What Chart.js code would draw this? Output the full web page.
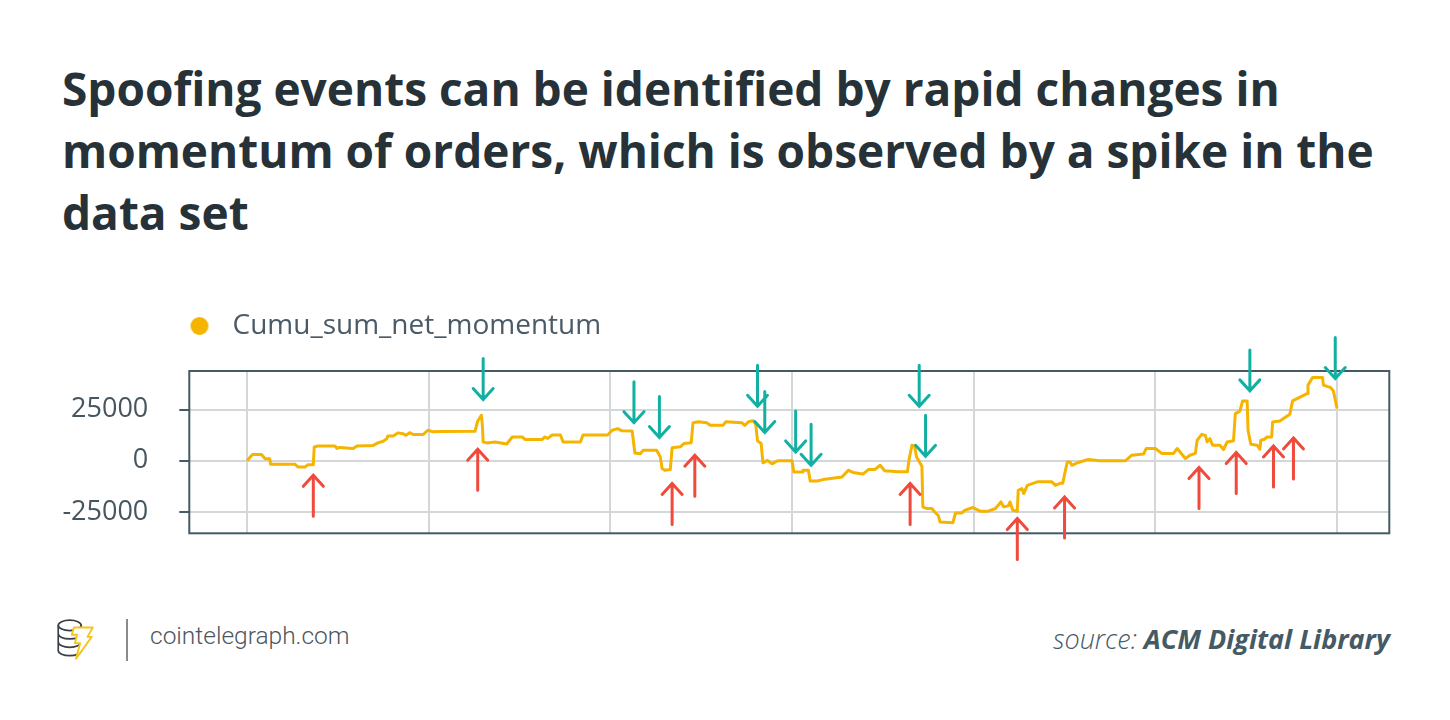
<!DOCTYPE html>
<html>
<head>
<meta charset="utf-8">
<script src="https://cdn.jsdelivr.net/npm/chart.js@4.4.1/dist/chart.umd.min.js"></script>
<style>
  html, body { margin: 0; padding: 0; background: #fff; }
  body { width: 1450px; height: 720px; position: relative; overflow: hidden; font-family: "Open Sans", sans-serif; }
  #title {
    position: absolute; left: 62px; top: 57px; margin: 0;
    font-size: 46px; line-height: 62px; font-weight: 700; color: #263238;
  }
  #chartBox { position: absolute; left: 0; top: 290px; width: 1450px; height: 300px; }
  #logo { position: absolute; left: 55px; top: 617px; }
  #divider { position: absolute; left: 126px; top: 619px; width: 2px; height: 42px; background: #8a8a8a; }
  #site { position: absolute; left: 150px; top: 621px; font-family: Roboto, sans-serif; font-weight: 300; font-size: 24.5px; color: #4a5761; }
  #source { position: absolute; right: 60px; top: 620px; font-size: 27px; font-style: italic; color: #455a64; }
  #source b { font-weight: 700; }
  #source span { font-weight: 300; }
</style>
</head>
<body>
<h1 id="title">Spoofing events can be identified by rapid changes in<br>momentum of orders, which is observed by a spike in the<br>data set</h1>
<div id="chartBox"><canvas id="momentumChart"></canvas></div>
<svg id="logo" width="42" height="46" viewBox="0 0 40 44">
  <g fill="none" stroke="#3a3f44" stroke-width="1.6">
    <ellipse cx="14" cy="8" rx="11" ry="5"/>
    <path d="M3 8 v8 a11 5 0 0 0 22 0 M3 16 v8 a11 5 0 0 0 22 0 M3 24 v8 a11 5 0 0 0 22 0 M25 8 v6"/>
  </g>
  <path d="M18 10 h18 l-5 9 h4 l-15 21 l4 -15 h-5 l2 -8 h-5 z" fill="#fff" stroke="#f5c518" stroke-width="1.8" stroke-linejoin="round"/>
</svg>
<div id="divider"></div>
<div id="site">cointelegraph.com</div>
<div id="source"><span>source: </span><b>ACM Digital Library</b></div>

<script>
// -------------------------
// Data (x = sample index, y = cumulative net momentum)
// -------------------------
const seriesLabel = 'Cumu_sum_net_momentum';

const xs = [0, 6, 16, 20, 25, 26, 53, 56, 64, 67, 73, 74, 78, 97, 99, 102, 117, 121, 139, 144,
  150, 154, 155, 161, 166, 172, 175, 179, 183, 194, 199, 205, 212, 251, 254, 258, 259, 260, 264, 273,
  286, 292, 303, 306, 325, 328, 331, 336, 345, 348, 367, 370, 397, 402, 408, 413, 424, 427, 433, 436,
  451, 455, 457, 460, 466, 468, 477, 481, 489, 491, 497, 506, 510, 524, 527, 545, 548, 552, 557, 560,
  562, 566, 568, 573, 578, 584, 600, 602, 611, 612, 618, 620, 628, 634, 655, 662, 667, 678, 684, 691,
  697, 702, 717, 727, 729, 732, 735, 737, 743, 744, 748, 754, 757, 761, 763, 777, 780, 787, 790, 799,
  807, 816, 824, 830, 833, 838, 840, 843, 848, 849, 853, 855, 859, 870, 886, 890, 895, 898, 901, 903,
  906, 908, 914, 926, 939, 967, 974, 987, 990, 1000, 1007, 1020, 1024, 1033, 1038, 1044, 1046, 1051, 1055, 1057,
  1060, 1063, 1071, 1075, 1079, 1086, 1088, 1093, 1096, 1101, 1102, 1105, 1112, 1115, 1116, 1120, 1123, 1128, 1129, 1137,
  1148, 1151, 1167, 1168, 1173, 1184, 1185, 1193, 1196, 1200];

const ys = [0, 3000, 3000, 1000, 1000, -1700, -1700, -3000, -3000, -2000, -2000, 6700, 7200, 7200, 6000, 6500, 6000, 7200, 7500, 8700,
  9500, 10800, 12100, 12100, 13600, 13200, 12400, 13700, 12800, 12800, 14900, 14100, 14300, 14400, 19400, 22200, 18000, 9200, 8700, 9200,
  8200, 11600, 11600, 10400, 10400, 11600, 10900, 12600, 12600, 9200, 9200, 12600, 12600, 14900, 15700, 14600, 14500, 3800, 3400, 5100,
  5100, 1900, -3800, -4600, -4300, 6400, 6800, 8400, 8800, 18500, 19000, 18500, 17300, 17300, 19000, 18500, 17300, 19000, 19500, 18000,
  9700, 8400, -1000, 200, -1500, 0, 0, -5500, -5500, -4600, -4600, -9900, -9900, -9200, -7900, -4600, -5700, -6500, -4300, -4300,
  -2200, -4900, -5400, -5400, 1000, 7600, 7100, 1900, -2700, -22500, -23300, -23300, -25000, -26700, -29900, -30300, -25500, -25500, -24200, -22800,
  -24600, -24600, -23300, -20100, -22500, -22000, -20100, -24200, -24600, -14400, -13600, -16000, -12000, -10300, -10300, -12000, -11000, -11000, -4600, -600,
  -600, -2200, -1000, 600, 0, 0, 2700, 3300, 6000, 6000, 3600, 3600, 6000, 1100, 2700, 3600, 10000, 12900, 12400, 9200,
  10800, 7600, 7600, 5500, 9200, 9800, 23000, 24200, 29200, 29200, 14900, 8100, 7600, 5600, 10000, 10500, 11600, 11600, 18900, 19400,
  22700, 29200, 32800, 36900, 40600, 40600, 36900, 35700, 34000, 25500];

const yTicks = [-25000, 0, 25000];
const xGridTicks = [0, 200, 400, 600, 800, 1000, 1200];

// Annotation arrows, tip positions in data units
const upArrowX = [73, 254, 468, 493, 730, 848, 900, 1048, 1089, 1130, 1152];
const upArrowY = [-7100, 5600, -11100, 2700, -11100, -28200, -17700, -3300, 4000, 7200, 11100];
const downArrowX = [260, 426, 454, 562, 570, 604, 621, 740, 747, 1104, 1198];
const downArrowY = [29900, 18600, 11300, 26600, 13800, 4300, -2200, 26600, 2200, 34100, 40100];

// -------------------------
// Legend marker (circle sitting a bit left of the label box)
// -------------------------
const dot = document.createElement('canvas');
dot.width = 30;
dot.height = 20;
const dctx = dot.getContext('2d');
dctx.fillStyle = '#f5b400';
dctx.beginPath();
dctx.arc(10, 10, 9, 0, Math.PI * 2);
dctx.fill();

// -------------------------
// Plugins
// -------------------------
const legendGap = {
  id: 'legendGap',
  beforeInit(chart) {
    const fit = chart.legend.fit;
    chart.legend.fit = function () {
      fit.bind(chart.legend)();
      this.height += 21;
    };
  },
  afterLayout(chart) {
    chart.legend.left = 180.5;
  }
};

function drawArrow(ctx, x, tipY, dir, color) {
  const len = 41;
  ctx.save();
  ctx.strokeStyle = color;
  ctx.lineWidth = 3;
  ctx.lineCap = 'round';
  ctx.beginPath();
  ctx.moveTo(x, tipY);
  ctx.lineTo(x, tipY + dir * len);
  ctx.moveTo(x - 10, tipY + dir * 11);
  ctx.lineTo(x, tipY);
  ctx.lineTo(x + 10, tipY + dir * 11);
  ctx.stroke();
  ctx.restore();
}

const frameAndArrows = {
  id: 'frameAndArrows',
  afterDatasetsDraw(chart) {
    const { ctx, chartArea: a, scales: { x, y } } = chart;
    ctx.save();
    ctx.strokeStyle = '#455a64';
    ctx.lineWidth = 2;
    ctx.strokeRect(a.left, a.top, a.right - a.left, a.bottom - a.top);
    ctx.restore();
    upArrowX.forEach((v, i) => drawArrow(ctx, x.getPixelForValue(v), y.getPixelForValue(upArrowY[i]), 1, '#ef4a3c'));
    downArrowX.forEach((v, i) => drawArrow(ctx, x.getPixelForValue(v), y.getPixelForValue(downArrowY[i]), -1, '#12b0a3'));
  }
};

// -------------------------
// Chart
// -------------------------
const ctx = document.getElementById('momentumChart').getContext('2d');

new Chart(ctx, {
  type: 'line',
  data: {
    datasets: [{
      label: seriesLabel,
      data: xs.map((v, i) => ({ x: v, y: ys[i] })),
      borderColor: '#f5b400',
      backgroundColor: '#f5b400',
      borderWidth: 3,
      pointRadius: 0,
      tension: 0,
      borderJoinStyle: 'round'
    }]
  },
  options: {
    responsive: true,
    maintainAspectRatio: false,
    animation: false,
    layout: { padding: { left: 0, right: 60.7, top: 12, bottom: 56.7 } },
    plugins: {
      legend: {
        align: 'start',
        labels: {
          usePointStyle: true,
          pointStyle: dot,
          padding: 10,
          color: '#4a5a66',
          font: { family: 'Open Sans', size: 28 }
        }
      },
      tooltip: { enabled: false }
    },
    scales: {
      x: {
        type: 'linear',
        min: -63.5,
        max: 1257.5,
        afterBuildTicks: s => { s.ticks = xGridTicks.map(v => ({ value: v })); },
        afterFit: s => { s.height = 0; },
        ticks: { display: false },
        border: { display: false },
        grid: { color: '#d3d7da', lineWidth: 2, drawTicks: false }
      },
      y: {
        min: -35400,
        max: 43800,
        afterBuildTicks: s => { s.ticks = yTicks.map(v => ({ value: v })); },
        afterFit: s => { s.width = 189.3; },
        border: { display: false },
        ticks: {
          padding: 31,
          color: '#46555f',
          font: { family: 'Open Sans', size: 27 },
          callback: v => String(v)
        },
        grid: { color: '#d3d7da', lineWidth: 2, tickLength: 10, tickColor: '#455a64' }
      }
    }
  },
  plugins: [legendGap, frameAndArrows]
});
</script>
</body>
</html>
